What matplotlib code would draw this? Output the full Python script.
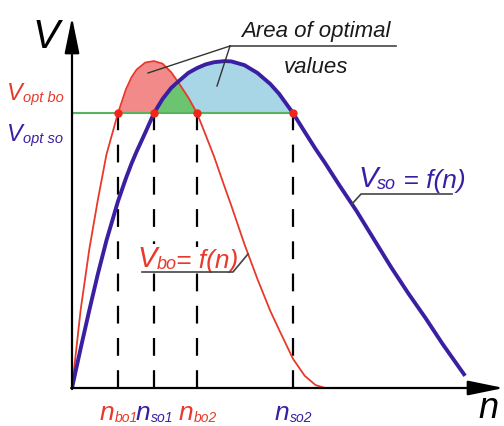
import numpy as np
import matplotlib
matplotlib.use("Agg")
import matplotlib.pyplot as plt

plt.rcParams['font.family'] = ['Liberation Sans', 'DejaVu Sans']

# ==========================================
# DATA (axes 0..100)
# ==========================================
n_vals = [0, 2, 4, 6, 8, 10.67, 12.5, 13.8, 15, 17, 19.03, 21, 23, 24.8, 27, 29.0,
          31, 33, 35.5, 37, 40, 43, 46, 48, 51.28, 54, 56.5, 58.7,
          62, 66, 70, 74, 78, 82, 86, 91.2]
v_bo = [0, 21.1, 37.5, 51.0, 63.3, 74.5, 80.9, 84.2, 86.3, 88.2, 88.6, 87.9, 85.6, 82.6, 78.7, 74.5,
        68.6, 62.6, 54.2, 49.3, 39.0, 29.6, 20.9, 15.9, 7.9, 3.3, 0.8, 0.0,
        np.nan, np.nan, np.nan, np.nan, np.nan, np.nan, np.nan, np.nan]
v_so = [0, 10.7, 21.0, 30.9, 40.0, 50.6, 56.8, 60.8, 64.1, 69.2, 74.5, 78.3, 81.3, 83.2, 85.4, 86.7,
        87.7, 88.3, 88.6, 88.5, 87.5, 85.4, 82.4, 79.8, 74.5, 69.4, 64.8, 61.0,
        55.0, 48.0, 40.4, 32.8, 25.7, 19.0, 11.9, 3.3]
v_opt = 74.5
n_marks = [10.67, 19.03, 29.0, 51.28]
n_subs = ['bo1', 'so1', 'bo2', 'so2']

RED = '#e8392a'
BLUE = '#3b1fa3'
GREEN = '#55b45f'

n = np.array(n_vals)
red = np.array(v_bo)
blue = np.array(v_so)
redz = np.nan_to_num(red)


def px(x, y):
    # picture pixels -> data units
    return (x - 72) / 4.31, (389 - y) / 3.69


fig = plt.figure(figsize=(5.04, 4.27), dpi=100)
ax = fig.add_axes([72 / 504, 38 / 427, 431 / 504, 369 / 427])
ax.set_xlim(0, 100)
ax.set_ylim(0, 100)
ax.axis('off')


def rich(x, y, parts, color, bg=False):
    # big letter followed by smaller subscript pieces, chained left to right
    kw = dict(color=color, style='italic', zorder=6)
    if bg:
        kw['bbox'] = dict(facecolor='white', edgecolor='none', pad=0.3)
    prev = ax.text(x, y, parts[0][0], fontsize=parts[0][1], ha='left', va='baseline', **kw)
    for s, size in parts[1:]:
        prev = ax.annotate(s, xy=(1, 0), xycoords=prev, fontsize=size, ha='left',
                           va='bottom', annotation_clip=False, **kw)


# areas
low = np.maximum(v_opt, blue)
ax.fill_between(n, low, redz, where=redz > low, interpolate=True, color='#f28a8a', lw=0, zorder=1)
top = np.minimum(redz, blue)
ax.fill_between(n, v_opt, top, where=top > v_opt, interpolate=True, color='#6cc470', lw=0, zorder=1)
low = np.maximum(v_opt, redz)
ax.fill_between(n, low, blue, where=blue > low, interpolate=True, color='#a8d6e6', lw=0, zorder=1)

ax.plot([0, n_marks[-1]], [v_opt, v_opt], color=GREEN, lw=1.5, zorder=2)
ax.vlines(n_marks, 0, v_opt, colors='k', lw=1.6, linestyles=(0, (8, 6.5)), zorder=2)

ax.plot(n, red, color=RED, lw=1.3, zorder=3, solid_joinstyle='round')
ax.plot(n, blue, color=BLUE, lw=2.8, zorder=3, solid_capstyle='butt', solid_joinstyle='round')
ax.plot(n_marks, [v_opt] * 4, 'o', color='#f0261a', ms=5, zorder=4)

# axes with arrows
arrow = dict(arrowstyle='-|>,head_length=2.2,head_width=0.45', lw=1.6, color='k',
             shrinkA=0, shrinkB=0)
ax.annotate('', xy=(0, 100.5), xytext=(0, -0.3), arrowprops=arrow, annotation_clip=False)
ax.annotate('', xy=(100.2, 0), xytext=(-0.2, 0), arrowprops=arrow, annotation_clip=False)

ax.text(*px(46, 48), 'V', fontsize=29, style='italic', ha='center', va='baseline')
ax.text(*px(488, 418), 'n', fontsize=26, style='italic', ha='center', va='baseline')

rich(*px(7, 100), [('V', 17), ('opt bo', 10.5)], RED)
rich(*px(7, 141), [('V', 17), ('opt so', 10.5)], BLUE)

for xm, sub, c in zip(n_marks, n_subs, [RED, BLUE, RED, BLUE]):
    rich(xm - 18 / 4.31, px(0, 420)[1], [('n', 19), (sub, 10)], c)

# area annotation
ax.text(*px(316, 37), 'Area of optimal', fontsize=16, style='italic', color='#1a1a1a',
        ha='center', va='baseline')
ax.text(*px(316, 73), 'values', fontsize=16, style='italic', color='#1a1a1a',
        ha='center', va='baseline')
x0, y0 = px(230, 47)
x1, _ = px(396, 47)
ax.plot([x0, x1], [y0, y0], color='#555555', lw=1.3, clip_on=False)
for tx, ty in [(148, 74), (217, 87)]:
    a, b = px(tx, ty)
    ax.plot([x0, a], [y0, b], color='#333333', lw=1, clip_on=False, zorder=5)

# curve labels
rich(*px(358, 187), [('V', 21), ('so', 13), (' = f(n)', 19)], BLUE)
ax.plot(*zip(px(352, 205), px(361, 195), px(452, 195)), color='#444444', lw=1.2, zorder=7)
rich(*px(137, 267), [('V', 21), ('bo', 13), ('= f(n)', 19)], RED, bg=True)
ax.plot(*zip(px(142, 273), px(233, 273), px(248, 255)), color='#444444', lw=1.2, zorder=7)

fig.savefig('out.png', dpi=100)
